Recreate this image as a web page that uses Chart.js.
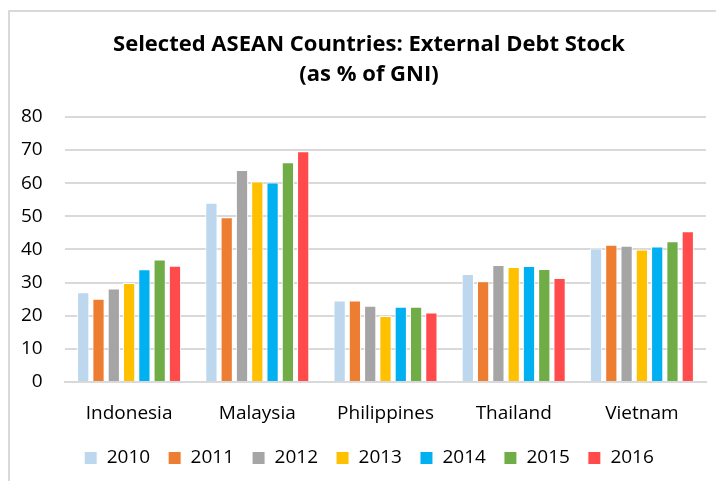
<!DOCTYPE html>
<html><head><meta charset="utf-8">
<script src="https://cdn.jsdelivr.net/npm/chart.js@4/dist/chart.umd.min.js"></script>
<style>
html,body{margin:0;padding:0;background:#fff;overflow:hidden;}
#c{position:absolute;left:0;top:0;display:block;}
#frame{position:absolute;left:8px;top:10px;width:720px;height:490px;border-left:2px solid #d9d9d9;border-top:2px solid #d9d9d9;box-sizing:border-box;pointer-events:none;}
</style></head><body>
<canvas id="c" width="716" height="481"></canvas>
<div id="frame"></div>
<script>
const categories = ["Indonesia","Malaysia","Philippines","Thailand","Vietnam"];
const years = ["2010","2011","2012","2013","2014","2015","2016"];
const v2010 = [27.1, 54.1, 24.6, 32.6, 40.3];
const v2011 = [25.1, 49.7, 24.6, 30.4, 41.4];
const v2012 = [28.2, 64.0, 23.0, 35.3, 41.1];
const v2013 = [29.9, 60.5, 19.9, 34.7, 40.0];
const v2014 = [34.0, 60.2, 22.7, 35.0, 40.9];
const v2015 = [37.0, 66.3, 22.7, 34.1, 42.5];
const v2016 = [35.1, 69.6, 21.0, 31.4, 45.5];
const yMin = 0, yMax = 80, yStep = 10;
const colors = ["#BDD7EE","#ED7D31","#A5A5A5","#FFC000","#00B0F0","#70AD47","#FF4B4B"];
const series = [v2010,v2011,v2012,v2013,v2014,v2015,v2016];
const FONT = "'Open Sans', 'Liberation Sans', sans-serif";
new Chart(document.getElementById('c'), {
  type: 'bar',
  data: {
    labels: categories,
    datasets: series.map((d,i)=>({label: years[i], data: d, backgroundColor: colors[i], borderColor:'#ffffff', borderWidth:1, categoryPercentage:0.835, barPercentage:0.8}))
  },
  options: {
    responsive:false, animation:false,
    layout:{padding:{left:32,right:10,top:12,bottom:3.5}},
    plugins:{
      title:{display:true, text:["Selected ASEAN Countries: External Debt Stock","(as % of GNI)"], color:'#000', font:{family:FONT, size:22, weight:'bold', lineHeight:1.35}, padding:{top:18,bottom:27.5}},
      legend:{position:'bottom', labels:{color:'#000', font:{family:FONT,size:19}, boxWidth:13, boxHeight:13, padding:18}},
      tooltip:{enabled:false}
    },
    scales:{
      x:{grid:{display:false}, border:{color:'#d9d9d9', width:2}, ticks:{color:'#000', font:{family:FONT,size:19}, padding:12},
         afterFit:(s)=>{s.height=48.5;}},
      y:{min:yMin,max:yMax,
         ticks:{stepSize:yStep, color:'#000', font:{family:FONT,size:19}, mirror:true, crossAlign:'far', padding:-44}, grid:{color:'#d9d9d9', lineWidth:2, drawTicks:false}, border:{display:false},
         afterFit:(s)=>{s.width=33;}}
    }
  }
});
</script></body></html>
